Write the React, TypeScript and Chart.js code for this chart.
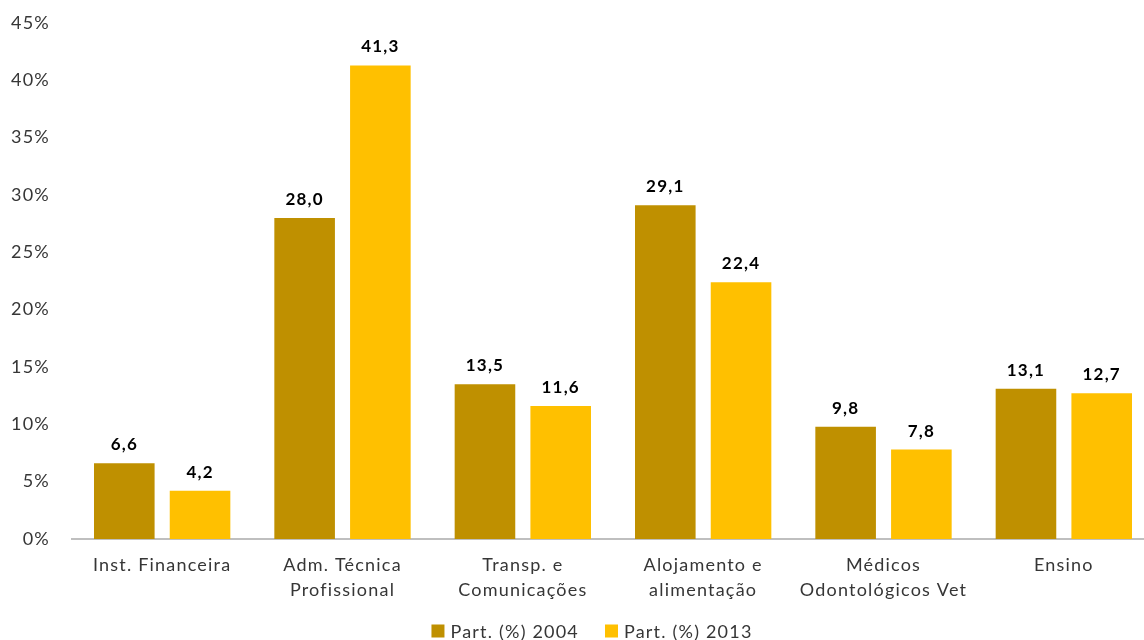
import React, { useEffect, useRef } from "react";
import { Chart, registerables } from "chart.js";

Chart.register(...registerables);

const categories: (string | string[])[] = [
  "Inst. Financeira",
  ["Adm. Técnica", "Profissional"],
  ["Transp. e", "Comunicações"],
  ["Alojamento e", "alimentação"],
  ["Médicos", "Odontológicos Vet"],
  "Ensino",
];
const series2004Label = "Part. (%) 2004";
const series2013Label = "Part. (%) 2013";
const values2004 = [6.6, 28.0, 13.5, 29.1, 9.8, 13.1];
const values2013 = [4.2, 41.3, 11.6, 22.4, 7.8, 12.7];
const color2004 = "#BF9000";
const color2013 = "#FFC000";
const yTicks = [0, 5, 10, 15, 20, 25, 30, 35, 40, 45];

const FONT = "Lato, 'Open Sans', sans-serif";
const SPACING = "1.2px";
const TEXT = "#363636";

const spacingPlugin = {
  id: "letterSpacing",
  beforeDraw(chart: any) {
    (chart.ctx as any).letterSpacing = SPACING;
  },
};

const dataLabelPlugin = {
  id: "dataLabels",
  afterDatasetsDraw(chart: any) {
    const ctx = chart.ctx;
    ctx.save();
    (ctx as any).letterSpacing = SPACING;
    ctx.font = `bold 17px ${FONT}`;
    ctx.fillStyle = "#000000";
    ctx.textAlign = "center";
    ctx.textBaseline = "alphabetic";
    chart.data.datasets.forEach((ds: any, i: number) => {
      const meta = chart.getDatasetMeta(i);
      meta.data.forEach((bar: any, j: number) => {
        const v = ds.data[j] as number;
        ctx.fillText(v.toFixed(1).replace(".", ","), bar.x, bar.y - 13);
      });
    });
    ctx.restore();
  },
};

const legendPlugin = {
  id: "customLegend",
  afterDraw(chart: any) {
    const ctx = chart.ctx;
    ctx.save();
    (ctx as any).letterSpacing = SPACING;
    ctx.font = `18px ${FONT}`;
    ctx.textBaseline = "middle";
    ctx.textAlign = "left";
    const items = chart.data.datasets.map((d: any) => ({
      label: d.label,
      color: d.backgroundColor,
    }));
    const box = 13;
    const gapBoxText = 6;
    const gapItems = 26;
    const widths = items.map(
      (it: any) => box + gapBoxText + ctx.measureText(it.label).width
    );
    const total =
      widths.reduce((a: number, b: number) => a + b, 0) +
      gapItems * (items.length - 1);
    let x = 592 - total / 2;
    const yMid = 631;
    items.forEach((it: any, i: number) => {
      ctx.fillStyle = it.color;
      ctx.fillRect(x, yMid - box / 2, box, box);
      ctx.fillStyle = TEXT;
      ctx.fillText(it.label, x + box + gapBoxText, yMid + 1);
      x += widths[i] + gapItems;
    });
    ctx.restore();
  },
};

export default function App() {
  const ref = useRef<HTMLCanvasElement | null>(null);
  useEffect(() => {
    if (!ref.current) return;
    const chart = new Chart(ref.current, {
      type: "bar",
      data: {
        labels: categories,
        datasets: [
          {
            label: series2004Label,
            data: values2004,
            backgroundColor: color2004,
            categoryPercentage: 0.84,
            barPercentage: 0.8,
          },
          {
            label: series2013Label,
            data: values2013,
            backgroundColor: color2013,
            categoryPercentage: 0.84,
            barPercentage: 0.8,
          },
        ],
      },
      options: {
        responsive: false,
        animation: false,
        devicePixelRatio: 1,
        layout: { padding: { top: 23, right: 6, left: 0, bottom: 0 } },
        plugins: {
          legend: { display: false },
          tooltip: { enabled: false },
        },
        scales: {
          x: {
            grid: { display: false, drawTicks: false },
            border: { display: true, color: "#BFBFBF", width: 2 },
            ticks: {
              color: TEXT,
              font: { family: FONT, size: 18, lineHeight: 1.39 },
              padding: 14,
              maxRotation: 0,
              autoSkip: false,
            },
            afterFit(scale: any) {
              scale.height = 101;
            },
          },
          y: {
            min: 0,
            max: 45,
            grid: { display: false, drawTicks: false },
            border: { display: false },
            afterBuildTicks(scale: any) {
              scale.ticks = yTicks.map((v) => ({ value: v }));
            },
            ticks: {
              color: TEXT,
              font: { family: FONT, size: 18 },
              padding: 22,
              callback: (v: any) => `${v}%`,
            },
            afterFit(scale: any) {
              scale.width = 72;
              scale.paddingTop = 0;
              scale.paddingBottom = 0;
            },
          },
        },
      },
      plugins: [spacingPlugin, dataLabelPlugin, legendPlugin],
    });
    return () => chart.destroy();
  }, []);

  return (
    <div
      style={{
        position: "fixed",
        left: 0,
        top: 0,
        width: 1144,
        height: 640,
        overflow: "hidden",
        background: "#ffffff",
      }}
    >
      <canvas ref={ref} width={1160} height={640} style={{ display: "block" }} />
    </div>
  );
}
